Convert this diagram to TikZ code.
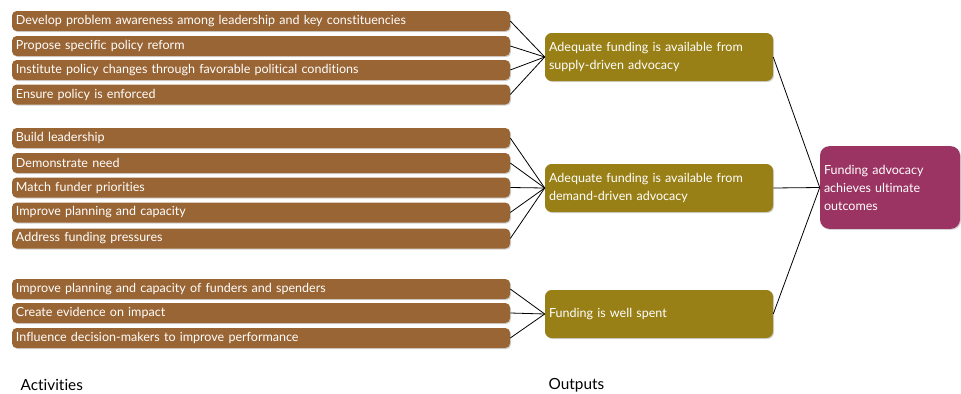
\documentclass[tikz,border=0pt]{standalone}
\usepackage{fontspec}
\setmainfont{Lato}[Ligatures=NoCommon]
\usetikzlibrary{shadows}
\definecolor{actbrown}{RGB}{154,101,52}
\definecolor{outolive}{RGB}{152,127,22}
\definecolor{endplum}{RGB}{155,52,98}
\begin{document}
\begin{tikzpicture}[x=0.75pt,y=-0.75pt,
    box/.style={rounded corners=3.5pt,text=white,align=left,inner xsep=3pt,inner ysep=1pt,
      font=\fontsize{9.4}{13.5}\selectfont,
      drop shadow={opacity=0.35,shadow xshift=0.8pt,shadow yshift=-0.8pt}},
    actbox/.style={box,fill=actbrown,minimum width=373.5pt,text width=367.5pt,minimum height=15pt},
    outbox/.style={box,fill=outolive,rounded corners=5pt,minimum width=171pt,text width=165pt,minimum height=36pt},
    finbox/.style={box,fill=endplum,rounded corners=7pt,minimum width=105pt,text width=99pt,minimum height=62pt},
    link/.style={black,line width=0.6pt}]
    \useasboundingbox (0,0) rectangle (961,393);
    % activities
    \node[actbox] (a1) at (261,21) {Develop problem awareness among leadership and key constituencies};
    \node[actbox] (a2) at (261,46) {Propose specific policy reform};
    \node[actbox] (a3) at (261,70) {Institute policy changes through favorable political conditions};
    \node[actbox] (a4) at (261,94.5) {Ensure policy is enforced};
    \node[actbox] (b1) at (261,138) {Build leadership};
    \node[actbox] (b2) at (261,163) {Demonstrate need};
    \node[actbox] (b3) at (261,187.5) {Match funder priorities};
    \node[actbox] (b4) at (261,212.5) {Improve planning and capacity};
    \node[actbox] (b5) at (261,238.5) {Address funding pressures};
    \node[actbox] (c1) at (261,289) {Improve planning and capacity of funders and spenders};
    \node[actbox] (c2) at (261,313) {Create evidence on impact};
    \node[actbox] (c3) at (261,338) {Influence decision-makers to improve performance};
    % outputs
    \node[outbox] (o1) at (659,57) {Adequate funding is available from\\supply-driven advocacy};
    \node[outbox] (o2) at (659,188) {Adequate funding is available from\\demand-driven advocacy};
    \node[outbox] (o3) at (659,314) {Funding is well spent};
    \node[finbox] (f) at (890,187.5) {Funding advocacy\\achieves ultimate\\outcomes};
    \foreach \n in {a1,a2,a3,a4}
        \draw[link] (\n.east) -- (o1.west);
    \foreach \n in {b1,b2,b3,b4,b5}
        \draw[link] (\n.east) -- (o2.west);
    \foreach \n in {c1,c2,c3}
        \draw[link] (\n.east) -- (o3.west);
    \foreach \n in {o1,o2,o3}
        \draw[link] (\n.east) -- (f.west);
    \node[anchor=west,font=\fontsize{11.5}{13}\selectfont] (la) at (16,385) {Activities};
    \node[anchor=west,font=\fontsize{11.5}{13}\selectfont] (lo) at (544,385) {Outputs};
\end{tikzpicture}
\end{document}
